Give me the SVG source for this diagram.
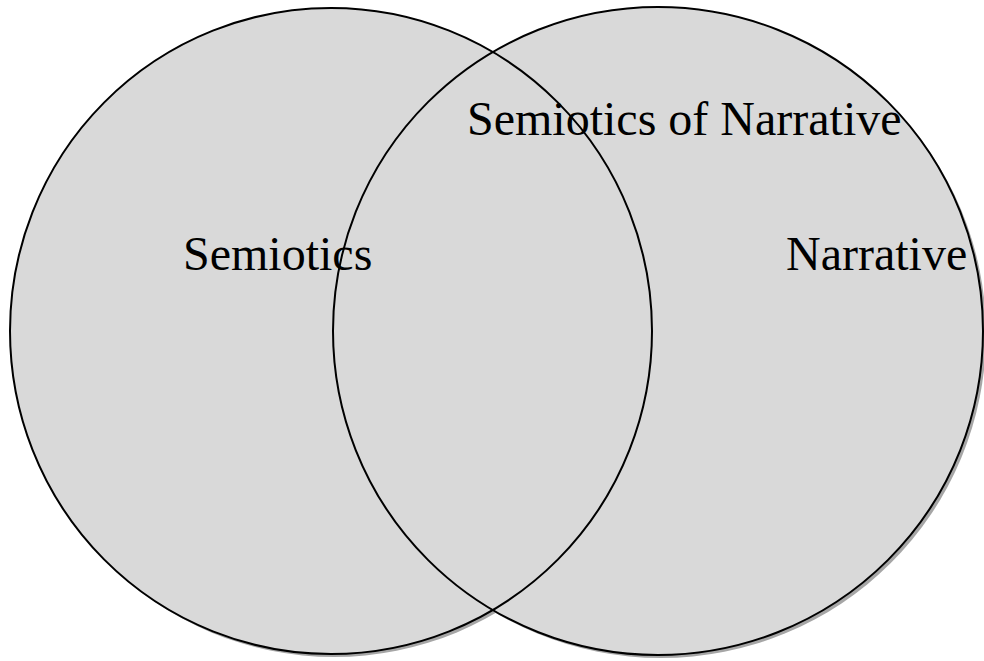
<svg xmlns="http://www.w3.org/2000/svg" width="984" height="661" viewBox="0 0 984 661">
<style>
.sh{fill:#a6a6a6;stroke:none}
.fl{fill:#d9d9d9;stroke:none}
.ol{fill:none;stroke:#000;stroke-width:2}
.lb{font-family:"Liberation Serif","Times New Roman",serif;font-size:48px;fill:#000}
</style>
<rect width="984" height="661" fill="#fff"/>
<g id="shadows">
<ellipse class="sh" cx="334" cy="334" rx="321" ry="323"/>
<ellipse class="sh" cx="661" cy="334" rx="325" ry="324"/>
</g>
<g id="semiotics">
<ellipse class="fl" cx="331" cy="331" rx="321" ry="323"/>
</g>
<g id="narrative">
<ellipse class="fl" cx="658" cy="331" rx="325" ry="324"/>
</g>
<g id="outlines">
<ellipse class="ol" cx="331" cy="331" rx="321" ry="323"/>
<ellipse class="ol" cx="658" cy="331" rx="325" ry="324"/>
</g>
<g id="labels">
<text class="lb" x="183" y="270">Semiotics</text>
<text class="lb" x="467" y="135">Semiotics of Narrative</text>
<text class="lb" x="786" y="270">Narrative</text>
</g>
</svg>
